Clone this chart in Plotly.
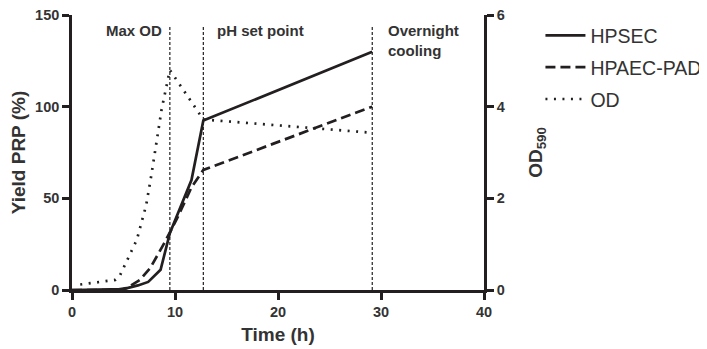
import plotly.graph_objects as go

# Data
t_hpsec = [0, 5, 6.4, 7.4, 8.6, 9.5, 11.6, 12.75, 29.15]
y_hpsec = [0, 0.5, 2.5, 4.4, 11, 31, 60, 92.4, 130]

t_hpaec = [0, 4, 5.3, 6.6, 7.6, 9.0, 10.2, 11.6, 12.75, 29.15]
y_hpaec = [0, 0, 1, 5.5, 12, 26, 39, 56, 65.5, 100]

t_od = [0.8, 4.2, 4.6, 5.3, 6.3, 7.2, 7.7, 8.7, 9.5, 12.75, 29.15]
y_od = [0.12, 0.22, 0.29, 0.64, 1.1, 1.85, 2.5, 3.94, 4.8, 3.72, 3.43]

phase_times = [9.5, 12.75, 29.15]
phase_labels = ["Max OD", "pH set point", "Overnight<br>cooling"]

x_ticks = [0, 10, 20, 30, 40]
y_ticks = [0, 50, 100, 150]
y2_ticks = [0, 2, 4, 6]

FONT = "Arial, Liberation Sans, sans-serif"
INK = "#231f20"

fig = go.Figure()
fig.add_trace(go.Scatter(x=t_hpsec, y=y_hpsec, mode="lines", name="HPSEC",
                         legendgroup="a",
                         line=dict(color=INK, width=2.7)))
fig.add_trace(go.Scatter(x=t_hpaec, y=y_hpaec, mode="lines", name="HPAEC-PAD",
                         legendgroup="b",
                         line=dict(color=INK, width=2.7, dash="10px,5px")))
fig.add_trace(go.Scatter(x=t_od, y=y_od, mode="lines", name="OD", yaxis="y2",
                         legendgroup="c",
                         line=dict(color=INK, width=2.7, dash="2px,6.5px")))

for t in phase_times:
    fig.add_shape(type="line", xref="x", yref="y", x0=t, x1=t, y0=0, y1=144.5,
                  line=dict(color=INK, width=1.2, dash="3px,2px"))

anchors = ["right", "left", "left"]
shifts = [-6, 12, 14]
for t, lab, anc, sh in zip(phase_times, phase_labels, anchors, shifts):
    fig.add_annotation(x=t, y=150, xref="x", yref="y", text="<b>" + lab + "</b>",
                       showarrow=False, xanchor=anc, yanchor="top", xshift=sh, yshift=-5,
                       align="left")
fig.update_annotations(font=dict(family=FONT, size=15, color="#333"))

axis_common = dict(showgrid=False, zeroline=False, showline=True, linecolor=INK,
                   linewidth=2.6, ticks="outside", ticklen=7, tickwidth=2.6,
                   tickcolor=INK, automargin=False, ticklabeloverflow="allow",
                   tickfont=dict(family=FONT, size=14.5, color="#333", weight="bold"))

# the page places the figure 8px in from the top-left corner
fig.update_layout(
    width=707, height=349,
    margin=dict(l=64, r=231, t=7, b=67, autoexpand=False),
    plot_bgcolor="white", paper_bgcolor="white",
    font=dict(family=FONT, color="#333"),
    xaxis=dict(range=[0, 40], tickvals=x_ticks, **axis_common,
               title=dict(text="<b>Time (h)</b>", font=dict(size=19, family=FONT), standoff=9)),
    yaxis=dict(range=[0, 150], tickvals=y_ticks, **axis_common,
               title=dict(text="<b>Yield PRP (%)</b>", font=dict(size=19, family=FONT), standoff=13)),
    yaxis2=dict(range=[0, 6], tickvals=y2_ticks, overlaying="y", side="right", **axis_common,
                title=dict(text="<b>OD<sub>590</sub></b>", font=dict(size=19, family=FONT), standoff=25)),
    showlegend=True,
    legend=dict(x=1.137, y=0.996, xanchor="left", yanchor="top",
                font=dict(family=FONT, size=19.5, color="#333"),
                tracegroupgap=3.5, itemwidth=40, bgcolor="rgba(0,0,0,0)"),
)

fig.write_html("out.html")
